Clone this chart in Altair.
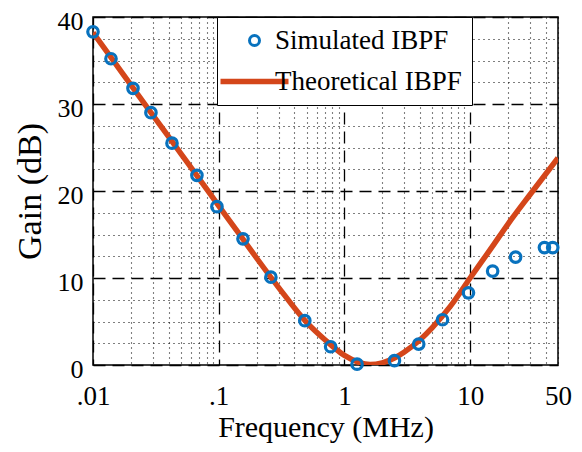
import altair as alt
import pandas as pd

# Simulated IBPF (circles)
sim_freq = [0.01, 0.0139, 0.0208, 0.0289, 0.0425, 0.0671, 0.0968, 0.156, 0.26, 0.484,
            0.777, 1.26, 2.5, 3.9, 6.03, 9.7, 15.1, 23.0, 39.0, 45.4]
sim_gain = [38.3, 35.2, 31.8, 29.0, 25.5, 21.8, 18.2, 14.5, 10.1, 5.1,
            2.1, 0.1, 0.5, 2.4, 5.2, 8.3, 10.8, 12.4, 13.5, 13.5]

# Theoretical IBPF (line)
th_freq = [0.01, 0.014, 0.02, 0.03, 0.05, 0.07, 0.1, 0.15, 0.2, 0.3, 0.5, 0.7, 1.0, 1.3,
           1.6, 2.0, 2.5, 3.0, 4.0, 5.0, 7.0, 10, 15, 20, 30, 50]
th_gain = [38.2, 35.3, 32.2, 28.7, 24.3, 21.4, 18.3, 14.8, 12.3, 8.9, 4.9, 2.9, 1.1, 0.3,
           0.05, 0.25, 0.8, 1.5, 2.9, 4.3, 6.8, 10.0, 13.6, 16.2, 19.6, 23.8]

series_names = ["Simulated IBPF", "Theoretical IBPF"]
series_colors = ["#0872BE", "#D4461A"]

x_ticks = [0.01, 0.02, 0.03, 0.04, 0.05, 0.06, 0.07, 0.08, 0.09,
           0.1, 0.2, 0.3, 0.4, 0.5, 0.6, 0.7, 0.8, 0.9,
           1, 2, 3, 4, 5, 6, 7, 8, 9,
           10, 20, 30, 40, 50]
x_major = [0.01, 0.1, 1, 10, 50]
x_major_labels = [".01", ".1", "1", "10", "50"]
y_ticks = [0, 2.5, 5, 7.5, 10, 12.5, 15, 17.5, 20, 22.5, 25, 27.5, 30, 32.5, 35, 37.5, 40]

sim_df = pd.DataFrame({"f": sim_freq, "g": sim_gain, "series": series_names[0]})
th_df = pd.DataFrame({"f": th_freq, "g": th_gain})

FONT = "Liberation Serif"

x_label_expr = " : ".join(
    f"datum.value == {v} ? '{l}'" for v, l in zip(x_major, x_major_labels)
) + " : ''"
x_major_test = "indexof([0.01, 0.1, 1, 10], datum.value) >= 0"
y_major_test = "datum.value % 10 == 0"

DASH = [12, 7]
DOT = [1, 4]

x_enc = alt.X(
    "f:Q",
    scale=alt.Scale(type="log", domain=[0.01, 50], nice=False),
    axis=alt.Axis(
        values=x_ticks, labelExpr=x_label_expr, title="Frequency (MHz)",
        grid=True, ticks=False, domain=False, labelFlush=False, labelOverlap=False,
        labelFontSize=27, titleFontSize=30, labelPadding=18, titlePadding=3,
        gridColor="#000",
        gridDash={"condition": {"test": x_major_test, "value": DASH}, "value": DOT},
        gridWidth={"condition": {"test": x_major_test, "value": 1.3}, "value": 1.1},
    ),
)
y_enc = alt.Y(
    "g:Q",
    scale=alt.Scale(domain=[0, 40], nice=False),
    axis=alt.Axis(
        values=y_ticks, labelExpr="datum.value % 10 == 0 ? datum.value : ''",
        title="Gain (dB)", grid=True, ticks=False, domain=False,
        labelFlush=False, labelOverlap=False, labelOffset=4,
        labelFontSize=26, titleFontSize=34, labelPadding=10, titlePadding=10,
        gridColor="#000",
        gridDash={"condition": {"test": y_major_test, "value": DASH}, "value": DOT},
        gridWidth={"condition": {"test": y_major_test, "value": 1.3}, "value": 1.1},
    ),
)

line = alt.Chart(th_df).mark_line(
    color=series_colors[1], strokeWidth=5.5, interpolate="monotone", clip=True
).encode(x=x_enc, y=y_enc)

legend_cfg = dict(
    title=None, orient="none", legendX=124, legendY=0,
    direction="vertical", labelLimit=0,
    labelFontSize=27, labelFont=FONT, labelColor="#000",
    symbolSize=100, symbolStrokeWidth=3, symbolOffset=14,
    labelOffset=7, rowPadding=13, padding=10,
    strokeColor="#000", fillColor="#fff", cornerRadius=0,
)

points = alt.Chart(sim_df).mark_point(
    filled=False, size=110, strokeWidth=3.2, opacity=1
).encode(
    x=x_enc, y=y_enc,
    color=alt.Color(
        "series:N",
        scale=alt.Scale(domain=series_names, range=series_colors),
        legend=alt.Legend(**legend_cfg),
    ),
    shape=alt.Shape(
        "series:N",
        scale=alt.Scale(domain=series_names,
                        range=["circle", "M-6.5,-0.25H6.5V0.25H-6.5Z"]),
        legend=alt.Legend(**legend_cfg),
    ),
)

chart = alt.layer(line, points).properties(
    width=465, height=348,
    autosize=alt.AutoSizeParams(type="none"),
    padding={"left": 85, "top": 9, "right": 16, "bottom": 79},
).configure(
    font=FONT,
).configure_view(
    stroke="#000", strokeWidth=1.5,
).configure_axis(
    labelFont=FONT, titleFont=FONT, labelColor="#000", titleColor="#000",
    titleFontWeight="normal",
)

chart.save("out.html", embed_options={"renderer": "svg", "actions": False})
